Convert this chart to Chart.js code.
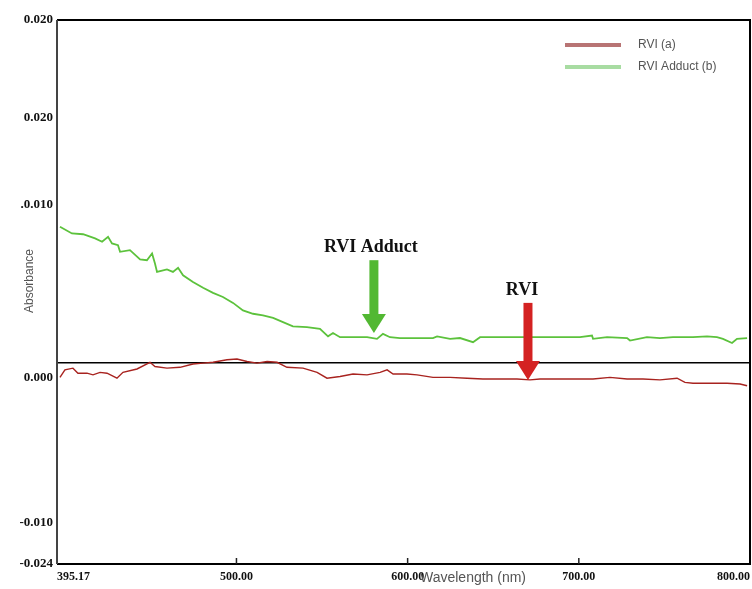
<!DOCTYPE html>
<html>
<head>
<meta charset="utf-8">
<script src="https://cdn.jsdelivr.net/npm/chart.js@4.4.1/dist/chart.umd.min.js"></script>
<style>
  body { margin: 0; background: #fff; }
  canvas { display: block; }
</style>
</head>
<body>
<canvas id="chart" width="752" height="589"></canvas>
<script>
// RVI (a)
const rviWavelength = [396.9, 399.8, 404.5, 407.4, 412.7, 416.2, 420.3, 424.4, 430.2, 433.7, 441.9, 449.5, 452.4, 459.4, 467.0, 474.6, 480.5, 486.3, 494.5, 500.3, 506.2, 512.0, 517.9, 523.7, 529.5, 538.9, 547.1, 552.9, 560.5, 568.1, 576.3, 583.9, 588.0, 591.5, 599.6, 605.5, 614.8, 624.8, 634.7, 644.0, 654.0, 663.9, 671.5, 677.3, 689.0, 700.7, 708.3, 718.2, 728.2, 737.5, 747.4, 757.4, 762.0, 766.7, 776.6, 786.6, 794.2, 798.3]
const rviAbs = [-0.0017, -0.0008, -0.0006, -0.0012, -0.0012, -0.0014, -0.0011, -0.0012, -0.0018, -0.0011, -0.0007, 0.0001, -0.0004, -0.0006, -0.0005, -0.0001, 0.0000, 0.0001, 0.0004, 0.0005, 0.0002, 0.0000, 0.0002, 0.0001, -0.0005, -0.0006, -0.0011, -0.0018, -0.0016, -0.0013, -0.0014, -0.0011, -0.0008, -0.0013, -0.0013, -0.0014, -0.0017, -0.0017, -0.0018, -0.0019, -0.0019, -0.0019, -0.0020, -0.0019, -0.0019, -0.0019, -0.0019, -0.0017, -0.0019, -0.0019, -0.0020, -0.0018, -0.0023, -0.0024, -0.0024, -0.0024, -0.0025, -0.0027]

// RVI Adduct (b)
const adductWavelength = [396.9, 403.9, 410.4, 417.4, 421.5, 425.0, 427.3, 430.8, 432.0, 437.8, 443.7, 447.7, 450.7, 452.4, 453.6, 459.4, 462.9, 465.9, 468.8, 474.6, 480.5, 486.3, 492.1, 498.0, 503.8, 509.7, 515.5, 521.4, 527.2, 533.0, 541.2, 548.8, 553.5, 556.4, 560.5, 566.3, 576.3, 582.1, 585.6, 589.7, 595.5, 605.5, 614.8, 617.2, 624.8, 630.6, 638.2, 642.3, 648.1, 654.0, 663.9, 673.2, 681.4, 689.0, 700.7, 707.7, 708.3, 716.5, 728.2, 729.9, 739.8, 747.4, 755.0, 766.7, 774.9, 780.7, 784.2, 789.5, 792.4, 798.3]
const adductAbs = [0.0163, 0.0155, 0.0154, 0.0149, 0.0145, 0.0151, 0.0143, 0.0141, 0.0133, 0.0135, 0.0124, 0.0123, 0.0131, 0.0119, 0.0109, 0.0112, 0.0109, 0.0114, 0.0105, 0.0097, 0.0090, 0.0084, 0.0079, 0.0072, 0.0063, 0.0059, 0.0057, 0.0054, 0.0049, 0.0044, 0.0043, 0.0041, 0.0032, 0.0036, 0.0031, 0.0031, 0.0031, 0.0029, 0.0035, 0.0031, 0.0030, 0.0030, 0.0030, 0.0032, 0.0029, 0.0030, 0.0025, 0.0031, 0.0031, 0.0031, 0.0031, 0.0031, 0.0031, 0.0031, 0.0031, 0.0033, 0.0029, 0.0031, 0.0030, 0.0027, 0.0031, 0.0030, 0.0031, 0.0031, 0.0032, 0.0031, 0.0029, 0.0024, 0.0029, 0.0030]

const seriesNames = ['RVI (a)', 'RVI Adduct (b)']

const xTickValues = [395.17, 500, 600, 700, 800]
const xTickLabels = ['395.17', '500.00', '600.00', '700.00', '800.00']
const yTickValues = [0.041, 0.0293, 0.0189, 0, -0.0017, -0.019, -0.024]
const yTickLabels = ['0.020', '0.020', '.0.010', '', '0.000', '-0.010', '-0.024']

// arrow notes: label, wavelength of tip, absorbance of tip, absorbance of shaft top
const noteLabels = ['RVI Adduct', 'RVI']
const noteX = [580.3, 670.3]
const noteTipY = [0.0036, -0.0020]
const noteTopY = [0.0123, 0.0072]

const lineColors = ['#a8231f', '#5cc23c']
const legendColors = ['#b87474', '#a8dca2']
const arrowColors = ['#52b832', '#d42222']

const frame = {
  id: 'frame',
  afterDraw (chart) {
    const { ctx, chartArea: a, scales } = chart
    ctx.save()
    ctx.strokeStyle = '#000'
    ctx.lineWidth = 2
    ctx.beginPath()
    ctx.moveTo(a.left, a.top)
    ctx.lineTo(a.right, a.top)
    ctx.lineTo(a.right, a.bottom)
    ctx.lineTo(a.left, a.bottom)
    ctx.stroke()
    ctx.strokeStyle = '#444'
    ctx.beginPath()
    ctx.moveTo(a.left, a.top)
    ctx.lineTo(a.left, a.bottom)
    ctx.stroke()
    // little inner ticks on bottom axis
    ctx.lineWidth = 1.5
    ctx.strokeStyle = '#222'
    xTickValues.slice(1, -1).forEach(v => {
      const px = scales.x.getPixelForValue(v)
      ctx.beginPath()
      ctx.moveTo(px, a.bottom)
      ctx.lineTo(px, a.bottom - 6)
      ctx.stroke()
    })
    // titles
    ctx.fillStyle = '#555'
    ctx.font = '14px "Liberation Sans", Arial, sans-serif'
    ctx.textAlign = 'center'
    ctx.textBaseline = 'middle'
    ctx.fillText('Wavelength (nm)', 473, 578)
    ctx.translate(30, 281)
    ctx.rotate(-Math.PI / 2)
    ctx.font = '12px "Liberation Sans", Arial, sans-serif'
    ctx.fillText('Absorbance', 0, 0)
    ctx.restore()
  }
}

const notes = {
  id: 'notes',
  afterDatasetsDraw (chart) {
    const { ctx, scales } = chart
    ctx.save()
    noteLabels.forEach((label, i) => {
      const x = scales.x.getPixelForValue(noteX[i])
      const tip = scales.y.getPixelForValue(noteTipY[i])
      const top = scales.y.getPixelForValue(noteTopY[i])
      const headH = 19
      ctx.fillStyle = arrowColors[i]
      ctx.fillRect(x - 4.5, top, 9, tip - top - headH + 1)
      ctx.beginPath()
      ctx.moveTo(x - 12, tip - headH)
      ctx.lineTo(x + 12, tip - headH)
      ctx.lineTo(x, tip)
      ctx.closePath()
      ctx.fill()
      ctx.fillStyle = '#111'
      ctx.font = 'bold 18px "Liberation Serif", "Times New Roman", serif'
      ctx.textAlign = 'center'
      ctx.textBaseline = 'bottom'
      ctx.fillText(label, x - (i === 0 ? 3 : 6), top - 4)
    })
    ctx.restore()
  }
}

const legendBox = {
  id: 'legendBox',
  afterDraw (chart) {
    const { ctx } = chart
    ctx.save()
    seriesNames.forEach((name, i) => {
      const y = 45 + i * 22
      ctx.strokeStyle = legendColors[i]
      ctx.lineWidth = 4
      ctx.beginPath()
      ctx.moveTo(565, y)
      ctx.lineTo(621, y)
      ctx.stroke()
      ctx.fillStyle = '#555'
      ctx.font = '12px "Liberation Sans", Arial, sans-serif'
      ctx.textAlign = 'left'
      ctx.textBaseline = 'middle'
      ctx.fillText(name, 638, y)
    })
    ctx.restore()
  }
}

const data = {
  datasets: [
    {
      label: seriesNames[0],
      data: rviWavelength.map((w, i) => ({ x: w, y: rviAbs[i] })),
      borderColor: lineColors[0],
      borderWidth: 1.4,
      pointRadius: 0,
      tension: 0
    },
    {
      label: seriesNames[1],
      data: adductWavelength.map((w, i) => ({ x: w, y: adductAbs[i] })),
      borderColor: lineColors[1],
      borderWidth: 1.8,
      pointRadius: 0,
      tension: 0
    }
  ]
}

const config = {
  type: 'line',
  data,
  options: {
    responsive: false,
    animation: false,
    layout: { autoPadding: false, padding: { top: 20, right: 2, left: 0, bottom: 0 } },
    plugins: {
      legend: { display: false },
      tooltip: { enabled: false }
    },
    scales: {
      x: {
        type: 'linear',
        min: 395.17,
        max: 800,
        afterBuildTicks: scale => { scale.ticks = xTickValues.map(v => ({ value: v })) },
        afterFit: scale => { scale.height = 25 },
        ticks: {
          align: 'inner',
          padding: 2,
          color: '#111',
          font: { family: '"Liberation Serif", "Times New Roman", serif', size: 12, weight: 'bold', lineHeight: 1.8 },
          callback: (value, index) => xTickLabels[index]
        },
        grid: { drawOnChartArea: false, drawTicks: false },
        border: { display: false }
      },
      y: {
        min: -0.024,
        max: 0.041,
        afterBuildTicks: scale => { scale.ticks = yTickValues.map(v => ({ value: v })) },
        afterFit: scale => { scale.width = 57 },
        ticks: {
          padding: 4,
          color: '#111',
          font: { family: '"Liberation Serif", "Times New Roman", serif', size: 13, weight: 'bold' },
          callback: (value, index) => yTickLabels[index]
        },
        grid: {
          drawTicks: false,
          lineWidth: 1.5,
          color: ctx => (ctx.tick && ctx.tick.value === 0 ? '#000' : 'rgba(0,0,0,0)')
        },
        border: { display: false }
      }
    }
  },
  plugins: [frame, notes, legendBox]
}

const chartInstance = new Chart(document.getElementById('chart').getContext('2d'), config)
</script>
</body>
</html>
